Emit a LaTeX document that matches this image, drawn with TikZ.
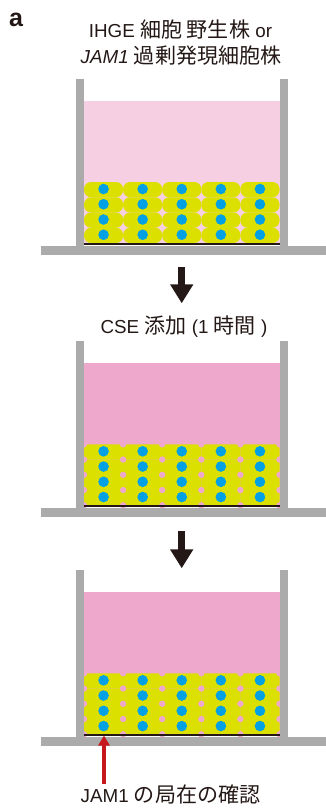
\documentclass[tikz,border=0pt]{standalone}
\usepackage{fontspec}
\setmainfont{Liberation Sans}
\newfontfamily\jp{Noto Sans CJK JP}[Scale=1.12]
\usetikzlibrary{arrows.meta}

\definecolor{wallgray}{HTML}{ABABAB}
\definecolor{medlight}{HTML}{F6D0E2}
\definecolor{medcse}{HTML}{EEA8CC}
\definecolor{cellyel}{HTML}{DCE000}
\definecolor{nucblue}{HTML}{00A0E4}
\definecolor{filmdark}{HTML}{231815}
\definecolor{jamred}{HTML}{C8161D}

\begin{document}
\begin{tikzpicture}[x=1pt,y=-1pt,
    lbl/.style={anchor=base, inner sep=0pt, text=filmdark, font=\fontsize{18.8}{24}\selectfont},
    cell/.style={fill=cellyel},
    nuc/.style={fill=nucblue},
    down/.style={draw=filmdark, line width=7pt, -{Triangle[width=22pt,length=19pt]}}]
    \useasboundingbox (0,0) rectangle (326,812);
    % panel letter
    \node[anchor=base west, inner sep=0pt, text=filmdark, font=\fontsize{25}{25}\selectfont\bfseries] (panel) at (9,26) {a};
    % labels
    \node[lbl] (top1) at (180.5,37.7) {IHGE {\jp 細胞 野生株} or};
    \node[lbl] (top2) at (181,63.3) {\textit{JAM1} {\jp 過剰発現細胞株}};
    \node[lbl] (cse) at (184,333.3) {CSE {\jp 添加} (1 {\jp 時間} )};
    \node[lbl] (jam) at (170.5,802) {JAM1 {\jp の局在の確認}};
    % three culture dishes: base height / medium colour / junction gaps
    \foreach \yb/\med/\gap in {246/medlight/0, 508.3/medcse/1, 737.3/medcse/1} {
        % medium
        \fill[\med] (84,\yb-145) rectangle (279.5,\yb-3);
        % cell layer, 5 x 4
        \foreach \i in {0,...,4} {
            \foreach \j in {0,...,3} {
                \ifnum\gap=0
                    \fill[cell, rounded corners=7pt] (84+39.1*\i,\yb-64+15.25*\j) rectangle ++(39.1,15.25);
                \else
                    \fill[cell, rounded corners=3pt] (84+39.1*\i,\yb-64+15.25*\j) rectangle ++(39.1,15.25);
                \fi
            }
        }
        \ifnum\gap=1
            \foreach \i in {0,...,5} {
                \foreach \j in {0,...,4} {
                    \fill[\med] (84+39.1*\i,\yb-64+15.25*\j) circle (3.2);
                }
            }
        \fi
        % nuclei
        \foreach \i in {0,...,4} {
            \foreach \j in {0,...,3} {
                \fill[nuc] (103.55+39.1*\i,\yb-57+15.25*\j) circle (5.3);
            }
        }
        % membrane
        \fill[filmdark] (84,\yb-3) rectangle (279.5,\yb-1);
        % walls and base
        \fill[wallgray] (76,\yb-167) rectangle (84,\yb);
        \fill[wallgray] (279.5,\yb-167) rectangle (288,\yb);
        \fill[wallgray] (41,\yb) rectangle (326,\yb+8.5);
    }
    % arrows between steps
    \coordinate (go1) at (181.7,267);
    \coordinate (to1) at (181.7,303.3);
    \coordinate (go2) at (181.7,531);
    \coordinate (to2) at (181.7,568.3);
    \draw[down] (go1) -- (to1);
    \draw[down] (go2) -- (to2);
    % JAM1 pointer
    \coordinate (film) at (104,735.5);
    \coordinate (foot) at (104,783.5);
    \draw[jamred, line width=3.3pt, -{Triangle[width=11pt,length=10pt]}] (foot) -- (film);
\end{tikzpicture}
\end{document}
